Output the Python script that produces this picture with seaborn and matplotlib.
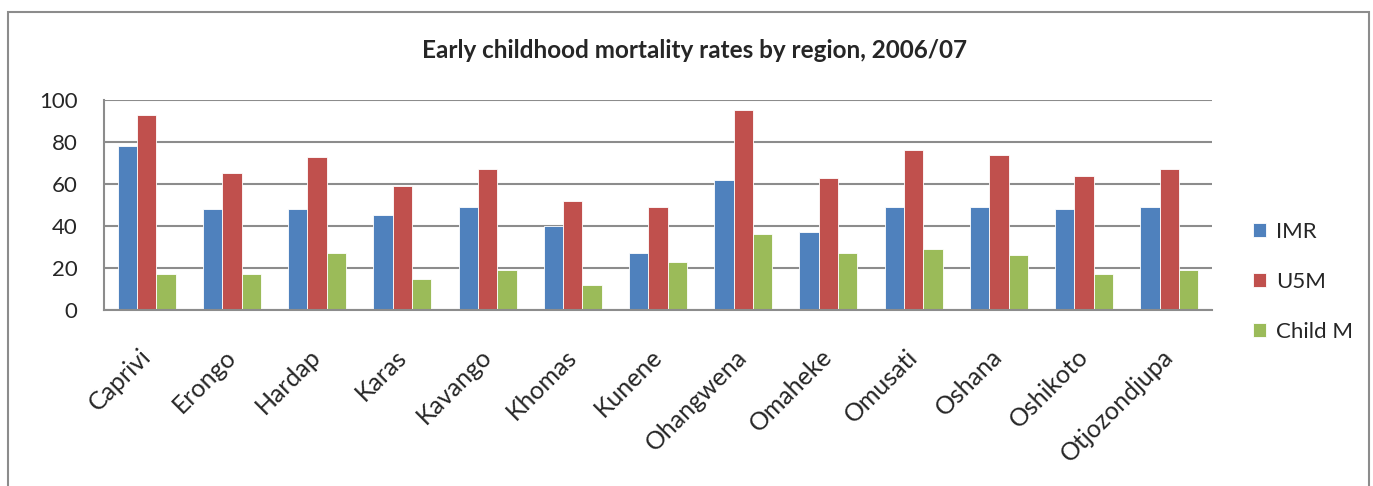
import matplotlib
matplotlib.use("Agg")
import matplotlib.pyplot as plt
import seaborn as sns
import pandas as pd
from matplotlib.patches import Rectangle

regions = ["Caprivi", "Erongo", "Hardap", "Karas", "Kavango", "Khomas", "Kunene",
           "Ohangwena", "Omaheke", "Omusati", "Oshana", "Oshikoto", "Otjozondjupa"]
imr = [78, 48, 48, 45, 49, 40, 27, 62, 37, 49, 49, 48, 49]
u5m = [93, 65, 73, 59, 67, 52, 49, 95, 63, 76, 74, 64, 67]
child_m = [17, 17, 27, 15, 19, 12, 23, 36, 27, 29, 26, 17, 19]
series = ["IMR", "U5M", "Child M"]
colors = ["#4F81BD", "#C0504D", "#9BBB59"]
yticks = [0, 20, 40, 60, 80, 100]
title = "Early childhood mortality rates by region, 2006/07"

rows = []
for s, vals in zip(series, [imr, u5m, child_m]):
    for r, v in zip(regions, vals):
        rows.append({"Region": r, "Series": s, "Value": v})
df = pd.DataFrame(rows)

sns.set_theme(style="white")
plt.rcParams['font.family'] = ['Lato', 'DejaVu Sans']

fig = plt.figure(figsize=(13.73, 4.86), dpi=100)
ax = fig.add_axes([104/1373, 1 - 310/486, (1212-104)/1373, 210/486])

sns.barplot(data=df, x="Region", y="Value", hue="Series", order=regions,
            hue_order=series, palette=colors, width=0.68, ax=ax,
            saturation=1, edgecolor="white", linewidth=0.6, legend=True)

ax.set_ylim(0, 100)
ax.set_yticks(yticks)
ax.set_yticklabels([str(t) for t in yticks], fontsize=16)
ax.yaxis.grid(True, color="#8C8C8C", linewidth=1.5)
ax.set_axisbelow(True)
ax.set_xlim(-0.5, len(regions) - 0.5)
ax.set_xlabel("")
ax.set_ylabel("")
ax.tick_params(axis="y", length=0, pad=19)
ax.tick_params(axis="x", length=0, pad=31)
for lab in ax.get_xticklabels():
    lab.set_rotation(45)
    lab.set_ha("right")
    lab.set_va("center")
    lab.set_rotation_mode("anchor")
    lab.set_fontsize(18)
for side in ["top", "right"]:
    ax.spines[side].set_visible(False)
for side in ["left", "bottom"]:
    ax.spines[side].set_color("#8C8C8C")
    ax.spines[side].set_linewidth(1.5)

leg = ax.legend(loc="center left", bbox_to_anchor=(1242/1373, 1 - 282/486),
                bbox_transform=fig.transFigure, frameon=False, fontsize=16,
                labelspacing=1.35, handlelength=0.6, handleheight=0.6,
                handletextpad=0.45, borderpad=0)

fig.text(695/1373, 1 - 50/486, title, ha="center", va="center",
         fontsize=17.5, fontweight="bold")

fig.patches.append(Rectangle((8/1373, -0.05), (1369-8)/1373, 1 - 12/486 + 0.05,
                             transform=fig.transFigure, fill=False,
                             edgecolor="#8C8C8C", linewidth=1.5))

fig.savefig("out.png", dpi=100)
